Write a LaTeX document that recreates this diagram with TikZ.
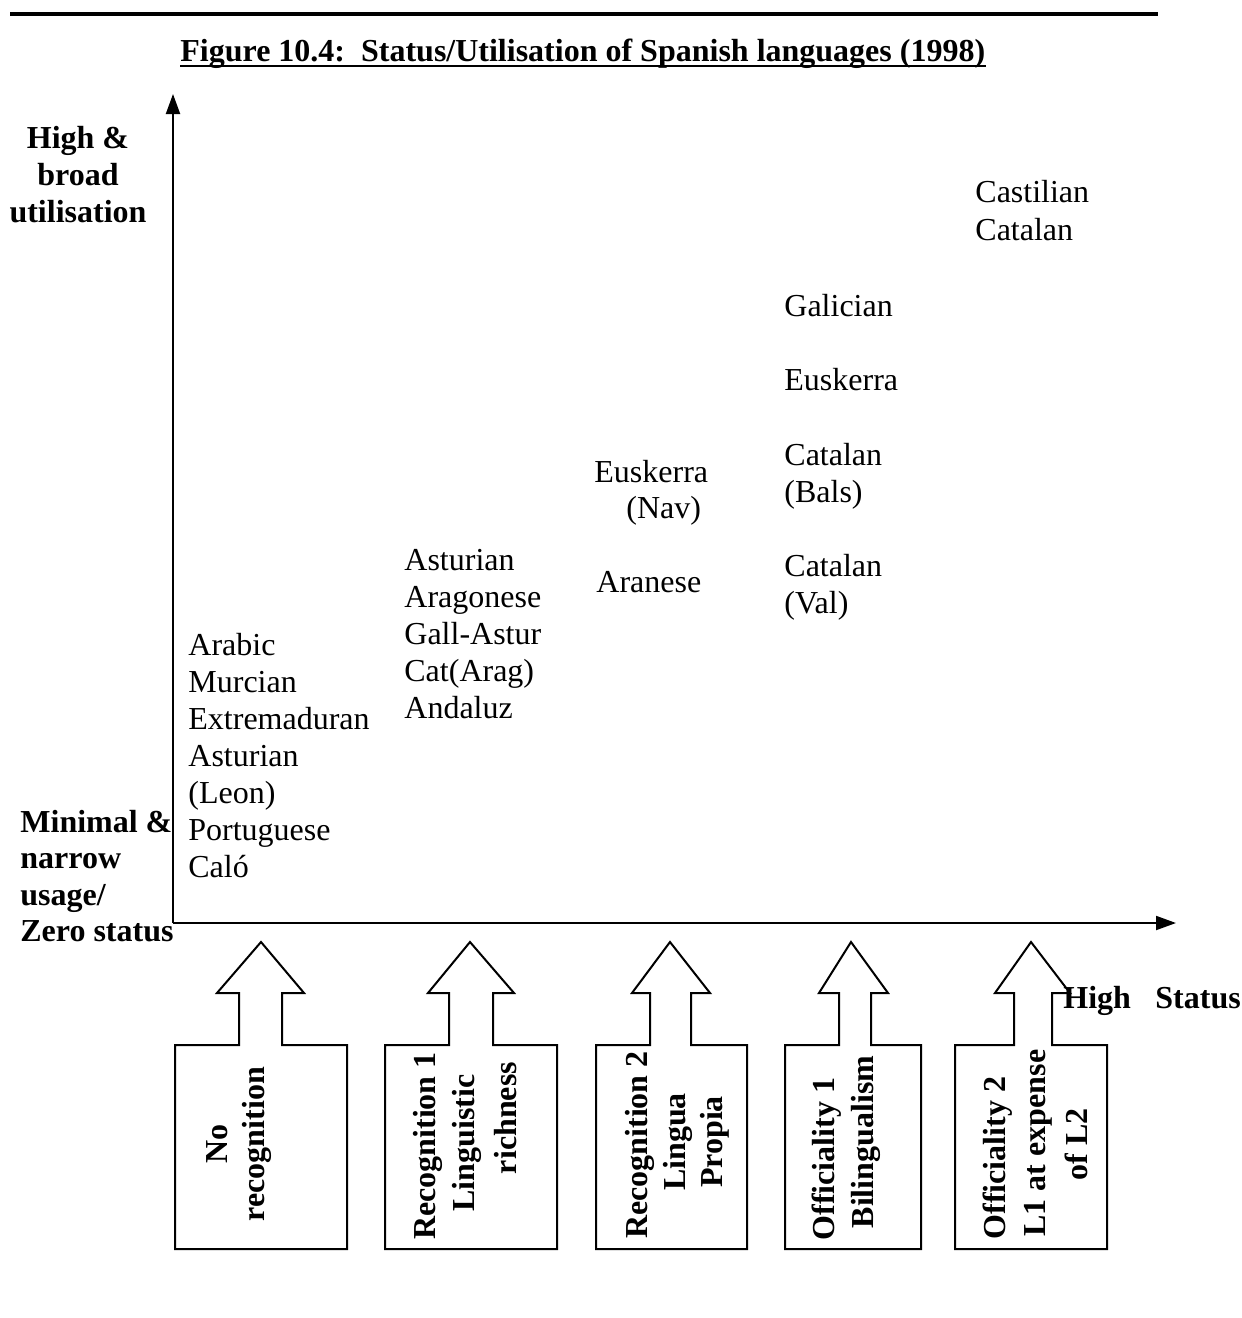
\documentclass[tikz,border=0pt]{standalone}
\usepackage{fontspec}
\setmainfont{Liberation Serif}
\usetikzlibrary{arrows.meta}

\begin{document}
\begin{tikzpicture}[x=0.5pt,y=-0.5pt,
  every node/.style={inner sep=0pt},
  txt/.style={font=\fontsize{16}{18.5}\selectfont},
  lang/.style={txt, anchor=base west},
  axlab/.style={font=\bfseries\fontsize{16}{18.5}\selectfont},
  boxlab/.style={axlab, rotate=90, anchor=base},
  axis/.style={line width=1pt, -{Triangle[length=10pt,width=7pt]}},
  levelbox/.style={draw, line width=1pt, line join=miter},
]
\useasboundingbox (0,0) rectangle (1242,1318);

% rule and title
\draw[line width=1.6pt] (10,14) -- (1158,14);
\node[axlab, anchor=base west] (title) at (180,61)
  {Figure 10.4:\ \ Status/Utilisation of Spanish languages (1998)};
\draw[line width=0.8pt] ([yshift=-2.6pt]title.base west) -- ([yshift=-2.6pt]title.base east);

% axes
\coordinate (O) at (173,923);
\coordinate (ytop) at (173,94);
\coordinate (xend) at (1176,923);
\draw[axis] (O) -- (ytop);
\draw[axis] (O) -- (xend);

% vertical axis labels
\node[axlab, anchor=base] (hi1) at (78,148) {High \&};
\node[axlab, anchor=base] (hi2) at (78,185) {broad};
\node[axlab, anchor=base] (hi3) at (78,222) {utilisation};
\node[axlab, anchor=base west] (lo1) at (20,832) {Minimal \&};
\node[axlab, anchor=base west] (lo2) at (20,868) {narrow};
\node[axlab, anchor=base west] (lo3) at (20,905) {usage/};
\node[axlab, anchor=base west] (lo4) at (20,941) {Zero status};

% horizontal axis label
\node[axlab, anchor=base west] (xhigh) at (1063,1008) {High};
\node[axlab, anchor=base west] (xstat) at (1155,1008) {Status};

% languages, column by column
\foreach \t [count=\i] in {Arabic,Murcian,Extremaduran,Asturian,(Leon),Portuguese,Caló}
  \node[lang] (a\i) at (188,{655+37*(\i-1)}) {\t};
\foreach \t [count=\i] in {Asturian,Aragonese,Gall-Astur,Cat(Arag),Andaluz}
  \node[lang] (b\i) at (404,{570+37*(\i-1)}) {\t};
\node[lang] (c1) at (594,482) {Euskerra};
\node[lang] (c2) at (626,518) {(Nav)};
\node[lang] (c3) at (596,592) {Aranese};
\node[lang] (d1) at (784,316) {Galician};
\node[lang] (d2) at (784,390) {Euskerra};
\node[lang] (d3) at (784,465) {Catalan};
\node[lang] (d4) at (784,502) {(Bals)};
\node[lang] (d5) at (784,576) {Catalan};
\node[lang] (d6) at (784,613) {(Val)};
\node[lang] (e1) at (975,202) {Castilian};
\node[lang] (e2) at (975,240) {Catalan};

% status levels: box with an upward arrow
\foreach \L/\R/\sl/\sr/\hl/\hr/\tip in {
    175/347/239/282/217/304/261,
    385/557/449/493/428/514/470,
    596/747/650/691/632/710/670,
    785/921/839/871/819/888/851,
    955/1107/1014/1052/995/1070/1031}
  \draw[levelbox] (\L,1249) -- (\L,1045) -- (\sl,1045) -- (\sl,993) -- (\hl,993)
    -- (\tip,942) -- (\hr,993) -- (\sr,993) -- (\sr,1045) -- (\R,1045)
    -- (\R,1249) -- cycle;

% level captions
\node[boxlab] (n1) at (227,1144) {No};
\node[boxlab] (n2) at (264,1144) {recognition};
\node[boxlab] (r1) at (435,1146) {Recognition 1};
\node[boxlab] (r2) at (474,1143) {Linguistic};
\node[boxlab] (r3) at (516,1118) {richness};
\node[boxlab] (p1) at (647,1145) {Recognition 2};
\node[boxlab] (p2) at (685,1142) {Lingua};
\node[boxlab] (p3) at (722,1142) {Propia};
\node[boxlab] (o1) at (834,1159) {Officiality 1};
\node[boxlab] (o2) at (873,1142) {Bilingualism};
\node[boxlab] (q1) at (1005,1158) {Officiality 2};
\node[boxlab] (q2) at (1045,1143) {L1 at expense};
\node[boxlab] (q3) at (1087,1144) {of L2};
\end{tikzpicture}
\end{document}
